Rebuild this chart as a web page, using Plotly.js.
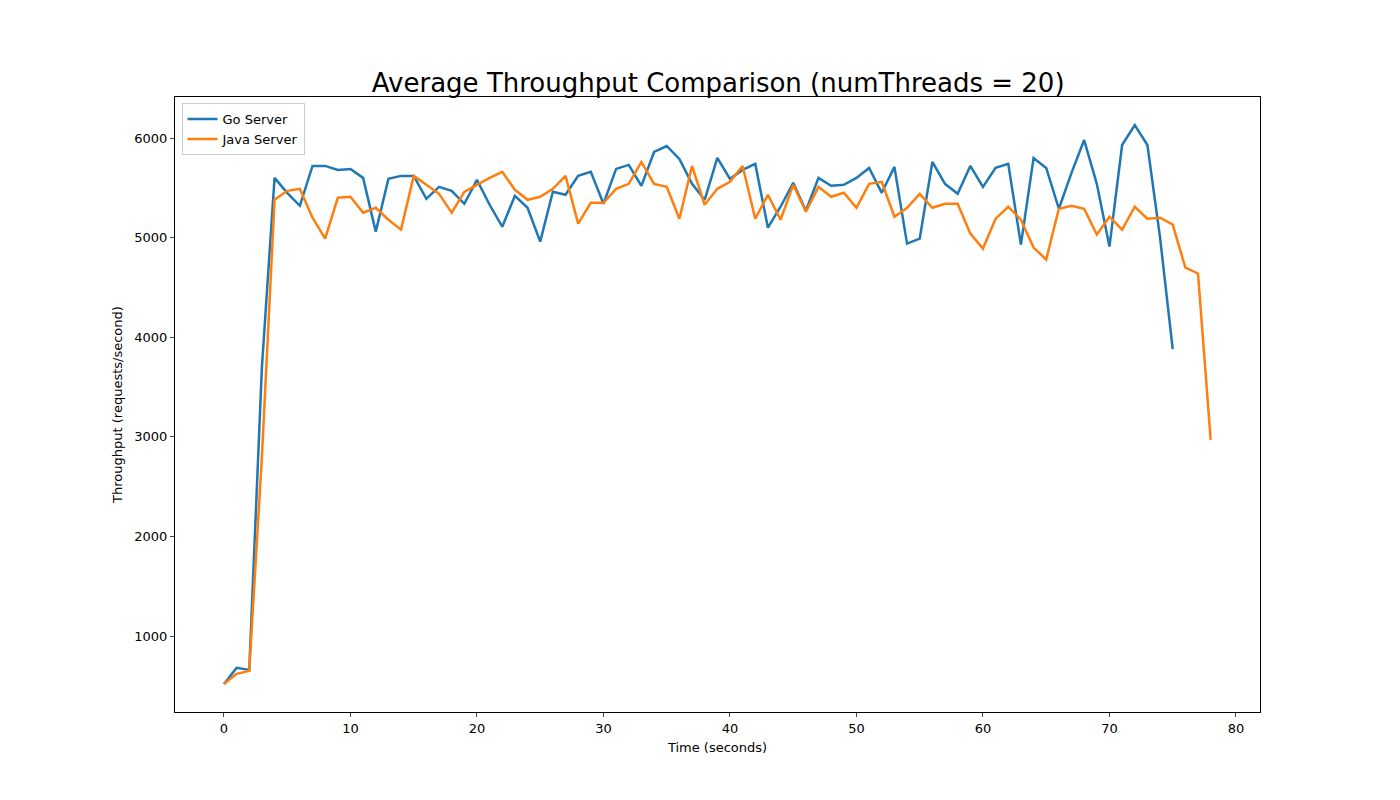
<!DOCTYPE html>
<html><head><script src="https://cdn.plot.ly/plotly-3.0.1.min.js"></script>
<style>body{margin:0}</style></head><body><div id="c" style="width:1400px;height:800px"></div>
<script>
const goValues=[518,680,660,3700,5600,5450,5320,5720,5720,5680,5690,5600,5060,5590,5620,5620,5390,5510,5470,5340,5580,5330,5110,5420,5300,4960,5460,5430,5620,5660,5340,5690,5730,5520,5860,5920,5790,5540,5380,5800,5590,5680,5740,5100,5310,5550,5270,5600,5520,5530,5600,5700,5450,5710,4940,4990,5760,5540,5440,5720,5510,5700,5740,4930,5800,5700,5290,5650,5980,5540,4910,5930,6130,5930,5000,3880];
const javaValues=[518,620,650,2800,5380,5470,5490,5200,4990,5400,5410,5250,5300,5180,5080,5620,5530,5440,5250,5460,5530,5600,5660,5480,5380,5410,5490,5620,5140,5350,5350,5490,5540,5760,5540,5510,5190,5720,5330,5490,5560,5720,5190,5430,5180,5530,5260,5510,5410,5450,5300,5540,5560,5210,5300,5440,5300,5340,5340,5040,4890,5190,5310,5180,4900,4780,5290,5320,5290,5030,5210,5080,5310,5190,5200,5130,4700,4640,2970];
const goTime=goValues.map((_,i)=>i), javaTime=javaValues.map((_,i)=>i);
const f={family:'DejaVu Sans',color:'#000'};
Plotly.newPlot('c',[
 {x:goTime,y:goValues,mode:'lines',name:'Go Server',line:{color:'#1f77b4',width:2.5}},
 {x:javaTime,y:javaValues,mode:'lines',name:'Java Server',line:{color:'#ff7f0e',width:2.5}}
],{
 width:1400,height:800,paper_bgcolor:'#fff',plot_bgcolor:'#fff',font:f,showlegend:true,
 margin:{l:175,r:140,t:97,b:88},
 title:{text:'Average Throughput Comparison (numThreads = 20)',font:{family:'DejaVu Sans',size:26,color:'#000'},x:0.513,xanchor:'center',y:0.885,yanchor:'bottom'},
 xaxis:{range:[-3.87,81.9],tickvals:[0,10,20,30,40,50,60,70,80],showgrid:false,zeroline:false,showline:true,mirror:true,linecolor:'#000',ticks:'outside',ticklen:4,tickfont:{size:13},title:{text:'Time (seconds)',font:{size:13},standoff:8}},
 yaxis:{range:[237,6412],tickvals:[1000,2000,3000,4000,5000,6000],showgrid:false,zeroline:false,showline:true,mirror:true,linecolor:'#000',ticks:'outside',ticklen:4,tickfont:{size:13},title:{text:'Throughput (requests/second)',font:{size:13},standoff:8}},
 legend:{x:0.006,y:0.99,xanchor:'left',yanchor:'top',bordercolor:'#ccc',borderwidth:1,bgcolor:'#fff',font:{size:13},tracegroupgap:0}
},{displayModeBar:false});
</script></body></html>
